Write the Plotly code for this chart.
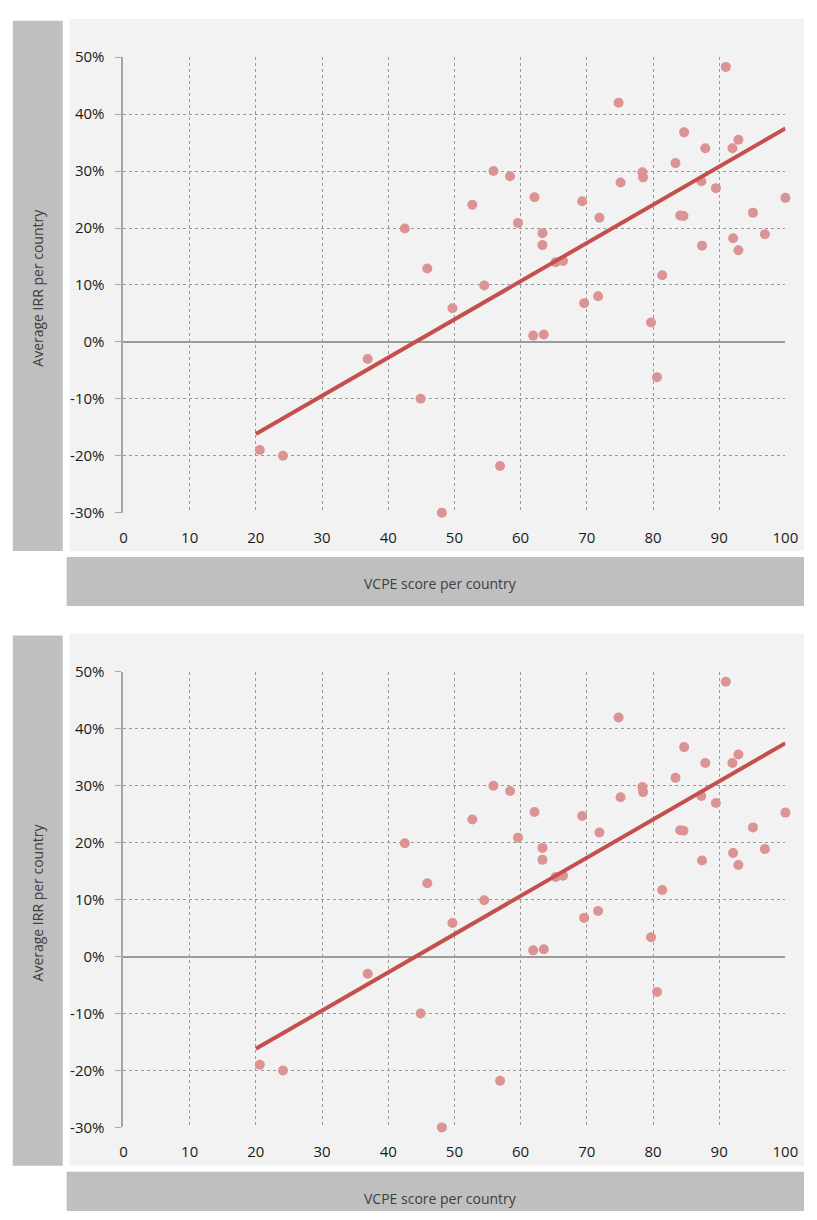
import plotly.graph_objects as go

# ---- data ----
vcpe_score = [20.6, 24.1, 36.9, 42.5, 44.9, 45.9, 49.7, 48.1, 52.7, 54.5,
              55.9, 56.9, 58.4, 59.6, 61.9, 62.1, 63.3, 63.3, 63.5, 65.3,
              66.4, 69.3, 69.6, 71.7, 71.9, 74.8, 75.1, 78.4, 78.5, 79.7,
              80.6, 81.4, 83.4, 84.1, 84.6, 84.7, 87.3, 87.4, 87.9, 89.5,
              91.0, 92.0, 92.1, 92.9, 92.9, 95.1, 96.9, 100.0]
avg_irr = [-0.19, -0.20, -0.03, 0.199, -0.10, 0.129, 0.059, -0.30, 0.241, 0.099,
           0.300, -0.218, 0.291, 0.209, 0.011, 0.254, 0.191, 0.170, 0.013, 0.140,
           0.142, 0.247, 0.068, 0.080, 0.218, 0.420, 0.280, 0.298, 0.289, 0.034,
           -0.062, 0.117, 0.314, 0.222, 0.221, 0.368, 0.282, 0.169, 0.340, 0.270,
           0.483, 0.340, 0.182, 0.355, 0.161, 0.227, 0.189, 0.253]
trend_x = [20, 100]
trend_y = [-0.162, 0.375]
x_ticks = [0, 10, 20, 30, 40, 50, 60, 70, 80, 90, 100]
y_ticks = [-0.3, -0.2, -0.1, 0.0, 0.1, 0.2, 0.3, 0.4, 0.5]
y_tick_labels = ["-30%", "-20%", "-10%", "0%", "10%", "20%", "30%", "40%", "50%"]
x_title = "VCPE score per country"
y_title = "Average IRR per country"

W, H = 817, 1220
FONT = "Open Sans"


def px(x):
    return x / W


def py(y):
    return 1 - y / H


fig = go.Figure()
shapes = []
annotations = []

charts = [
    # (xaxis name, yaxis name, vertical offset)
    ("x", "y", 0),
    ("x2", "y2", 625),
]

for xa, ya, off in charts:
    fig.add_trace(go.Scatter(
        x=vcpe_score, y=avg_irr, mode="markers", xaxis=xa, yaxis=ya,
        marker=dict(color="#dc9393", size=10, line=dict(width=0)),
        cliponaxis=False, showlegend=False, hoverinfo="skip"))
    fig.add_trace(go.Scatter(
        x=trend_x, y=trend_y, mode="lines", xaxis=xa, yaxis=ya,
        line=dict(color="#c4504d", width=4),
        showlegend=False, hoverinfo="skip"))

    # background panels
    shapes.append(dict(type="rect", xref="paper", yref="paper", layer="below",
                       x0=px(67), x1=px(817), y0=py(549 + off), y1=py(8 + off),
                       fillcolor="#f2f2f2", line=dict(width=0)))
    shapes.append(dict(type="rect", xref="paper", yref="paper", layer="below",
                       x0=px(9), x1=px(60), y0=py(549 + off), y1=py(10 + off),
                       fillcolor="#bfbfbf", line=dict(width=0)))
    shapes.append(dict(type="rect", xref="paper", yref="paper", layer="below",
                       x0=px(64), x1=px(817), y0=py(min(605 + off, 1220)), y1=py(555 + off),
                       fillcolor="#bfbfbf", line=dict(width=0)))

    annotations.append(dict(xref="paper", yref="paper", x=px(446), y=py(582 + off),
                            text=x_title, showarrow=False, xanchor="center", yanchor="middle",
                            font=dict(family=FONT, size=14, color="#404040")))
    annotations.append(dict(xref="paper", yref="paper", x=px(34), y=py(281 + off),
                            text=y_title, showarrow=False, textangle=-90,
                            xanchor="center", yanchor="middle",
                            font=dict(family=FONT, size=14, color="#404040")))

axis_x = dict(range=[0, 100], domain=[px(122), px(798)], tickvals=x_ticks,
              showgrid=True, gridcolor="#9a9a9a", griddash="dot", gridwidth=1,
              zeroline=False, showline=False, ticks="", ticklabelstandoff=14,
              tickfont=dict(family=FONT, size=15, color="#1a1a1a"), fixedrange=True)
axis_y = dict(range=[-0.30, 0.50], tickvals=y_ticks, ticktext=y_tick_labels,
              showgrid=True, gridcolor="#9a9a9a", griddash="dot", gridwidth=1,
              zeroline=True, zerolinecolor="#9a9a9a", zerolinewidth=1.5,
              showline=True, linecolor="#a6a6a6", linewidth=2,
              ticks="outside", ticklen=6, tickcolor="#a6a6a6", tickwidth=1,
              ticklabelstandoff=8,
              tickfont=dict(family=FONT, size=15, color="#1a1a1a"), fixedrange=True)

fig.update_layout(
    width=W, height=H, margin=dict(l=0, r=0, t=0, b=0),
    paper_bgcolor="white", plot_bgcolor="rgba(0,0,0,0)",
    shapes=shapes, annotations=annotations,
    xaxis=dict(axis_x, anchor="y"),
    yaxis=dict(axis_y, anchor="x", domain=[py(510), py(47)]),
    xaxis2=dict(axis_x, anchor="y2"),
    yaxis2=dict(axis_y, anchor="x2", domain=[py(1135), py(672)]),
)

fig.write_html(
    "out.html",
    config={"displayModeBar": False},
    post_script="document.body.style.margin='0';document.body.style.overflow='hidden';",
)
